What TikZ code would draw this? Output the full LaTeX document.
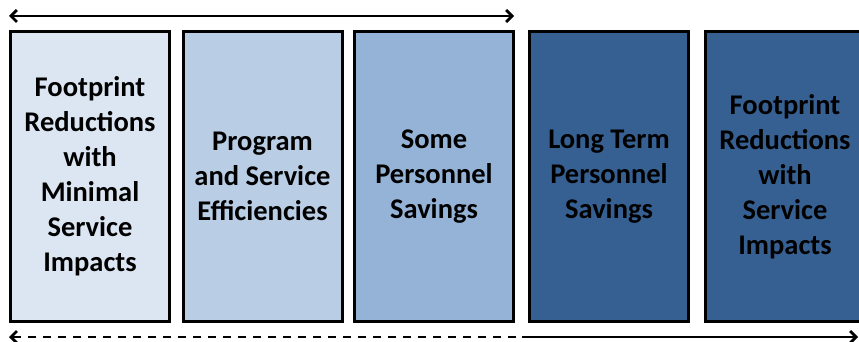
\documentclass[tikz,border=0pt]{standalone}
\usepackage{fontspec}
\setmainfont{Carlito}
\usetikzlibrary{arrows.meta}
\definecolor{paleblue}{HTML}{DCE6F2}
\definecolor{lightblue}{HTML}{B9CDE5}
\definecolor{midblue}{HTML}{95B3D7}
\definecolor{deepblue}{HTML}{376092}
\begin{document}
\begin{tikzpicture}[x=1pt,y=1pt,
  stagebox/.style={draw=black,line width=3pt,minimum width=159pt,minimum height=290pt,
    inner sep=0pt,align=center,font=\fontsize{28.5}{35}\selectfont\bfseries,text=black},
  barb/.tip={Straight Barb[length=6pt,width=12pt,line width=2.8pt]},
  spanline/.style={line width=2.8pt}]
\useasboundingbox (0,0) rectangle (859,341);
% five stages, light to dark
\node[stagebox,fill=paleblue]  (s1) at (90,164.5)  {Footprint\\Reductions\\with\\Minimal\\Service\\Impacts};
\node[stagebox,fill=lightblue] (s2) at (262.5,164.5) {Program\\and Service\\Efficiencies};
\node[stagebox,fill=midblue]   (s3) at (434,164.5) {Some\\Personnel\\Savings};
\node[stagebox,fill=deepblue]  (s4) at (609,164.5) {Long Term\\Personnel\\Savings};
\node[stagebox,fill=deepblue]  (s5) at (785,164.5) {Footprint\\Reductions\\with\\Service\\Impacts};
% span markers above and below the stages
\coordinate (tl) at (9,325);
\coordinate (tr) at (514,325);
\coordinate (bl) at (9,4);
\coordinate (bm) at (516,4);
\coordinate (bn) at (522,4);
\coordinate (br) at (858,4);
\draw[spanline,barb-barb] (tl) -- (tr);
\draw[spanline,-barb,dash pattern=on 8pt off 7pt] (bm) -- (bl);
\draw[spanline,-barb] (bn) -- (br);
\end{tikzpicture}
\end{document}
